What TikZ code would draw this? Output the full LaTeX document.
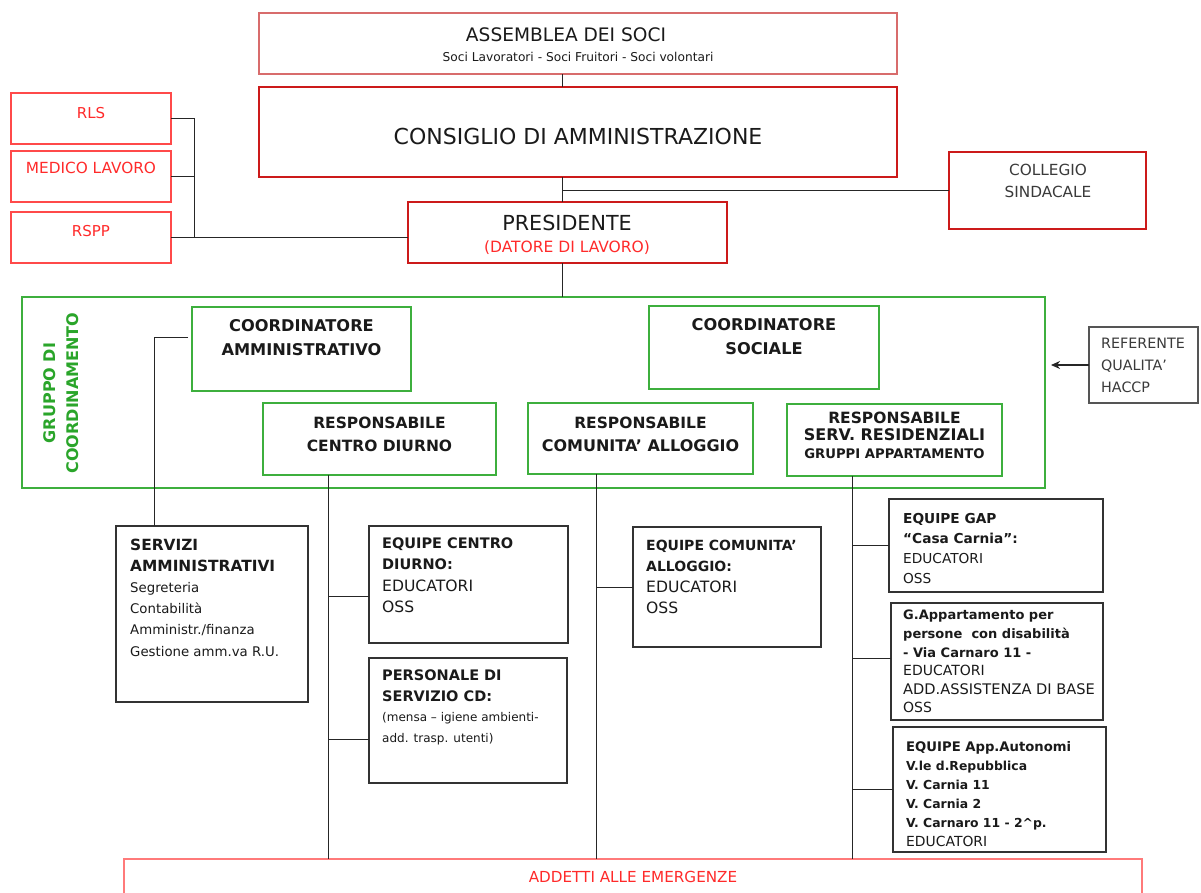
\documentclass[tikz,border=0pt]{standalone}
\usepackage{fontspec}
\setmainfont{DejaVu Sans}
\usetikzlibrary{arrows.meta}
\definecolor{rLite}{HTML}{D86C6C}
\definecolor{rDark}{HTML}{CC1A1A}
\definecolor{rBright}{HTML}{FF4A4A}
\definecolor{rAdd}{HTML}{FF7A7A}
\definecolor{rText}{HTML}{FF2A2A}
\definecolor{gBox}{HTML}{3DAF3D}
\definecolor{gText}{HTML}{2AA52A}
\definecolor{kBox}{HTML}{333333}
\definecolor{kGray}{HTML}{555555}
\definecolor{kText}{HTML}{1A1A1A}
\definecolor{kSoft}{HTML}{3A3A3A}
\tikzset{
  plain/.style={inner sep=0pt, outer sep=0pt},
  sz/.style 2 args={minimum width=#1pt, minimum height=#2pt},
  redlite/.style={plain, draw=rLite, line width=1.8pt},
  reddark/.style={plain, draw=rDark, line width=1.8pt},
  redbright/.style={plain, draw=rBright, line width=1.6pt},
  redadd/.style={plain, draw=rAdd, line width=1.6pt},
  greenbox/.style={plain, draw=gBox, line width=1.5pt},
  blackbox/.style={plain, draw=kBox, line width=1.5pt},
  graybox/.style={plain, draw=kGray, line width=1.5pt},
  conn/.style={draw=black!85, line width=1pt},
  ctxt/.style={inner sep=0pt, align=center, text=kText},
  ltxt/.style={inner sep=0pt, align=left, anchor=north west, text=kText},
}
\begin{document}
\begin{tikzpicture}[x=1pt,y=-1pt]
\useasboundingbox (0,0) rectangle (1201,892);
\clip (0,0) rectangle (1201,892);
\fill[white] (0,0) rectangle (1201,892);

% spine coordinates
\coordinate (sp) at (562.5,0);
\coordinate (br) at (194,0);
\coordinate (ca) at (154,0);
\coordinate (cdx) at (328,0);
\coordinate (cax) at (596.5,0);
\coordinate (srx) at (852,0);

% top
\node[redlite, sz={638}{61}] (assemblea) at (578,43.5) {};
\node[ctxt, font=\fontsize{18.6}{20}\selectfont] (assT) at (566,35) {ASSEMBLEA DEI SOCI};
\node[ctxt, font=\fontsize{12.2}{14}\selectfont] (assS) at (578,57) {Soci Lavoratori - Soci Fruitori - Soci volontari};

\node[reddark, sz={638}{90}] (consiglio) at (578,132) {};
\node[ctxt, font=\fontsize{22}{24}\selectfont] (consT) at (578,136) {CONSIGLIO DI AMMINISTRAZIONE};

\node[redbright, sz={160}{51}] (rls) at (91,118.5) {};
\node[ctxt, text=rText, font=\fontsize{15}{17}\selectfont] (rlsT) at (91,113) {RLS};
\node[redbright, sz={160}{51}] (medico) at (91,176.5) {};
\node[ctxt, text=rText, font=\fontsize{15.3}{17}\selectfont] (medicoT) at (91,168) {MEDICO LAVORO};
\node[redbright, sz={160}{51}] (rspp) at (91,237.5) {};
\node[ctxt, text=rText, font=\fontsize{15}{17}\selectfont] (rsppT) at (91,231) {RSPP};

\node[reddark, sz={319}{61}] (presidente) at (567.5,232.5) {};
\node[ctxt, font=\fontsize{20.7}{22}\selectfont] (presT) at (567,223) {PRESIDENTE};
\node[ctxt, text=rText, font=\fontsize{15.5}{17}\selectfont] (presS) at (567,248) {(DATORE DI LAVORO)};

\node[reddark, sz={197}{77}] (collegio) at (1047.5,190.5) {};
\node[ctxt, text=kSoft, font=\fontsize{15.3}{22}\selectfont] (collT) at (1048,181) {COLLEGIO\\SINDACALE};

% group
\node[greenbox, sz={1023}{191}] (group) at (533.5,392.5) {};
\node[ctxt, text=gText, rotate=90, font=\fontsize{16}{23}\selectfont\bfseries] (groupT) at (61.5,393) {GRUPPO DI\\COORDINAMENTO};

\node[greenbox, sz={219}{84}] (coordamm) at (301.5,349) {};
\node[ctxt, font=\fontsize{16.2}{24}\selectfont\bfseries] (coordammT) at (301.5,338) {COORDINATORE\\AMMINISTRATIVO};
\node[greenbox, sz={230}{83}] (coordsoc) at (764,347.5) {};
\node[ctxt, font=\fontsize{16.2}{24}\selectfont\bfseries] (coordsocT) at (764,337) {COORDINATORE\\SOCIALE};

\node[greenbox, sz={233}{72}] (respcd) at (379.5,439) {};
\node[ctxt, font=\fontsize{15.5}{23}\selectfont\bfseries] (respcdT) at (379.5,434.5) {RESPONSABILE\\CENTRO DIURNO};
\node[greenbox, sz={225}{71}] (respca) at (640.5,438.5) {};
\node[ctxt, font=\fontsize{15.5}{23}\selectfont\bfseries] (respcaT) at (640.5,434.5) {RESPONSABILE\\{\fontsize{16}{23}\selectfont COMUNITA' ALLOGGIO}};
\node[greenbox, sz={215}{72}] (respsr) at (894.5,440) {};
\node[ctxt, font=\fontsize{15.5}{17.5}\selectfont\bfseries] (respsrT) at (894.5,435) {RESPONSABILE\\{\fontsize{16}{17.5}\selectfont SERV. RESIDENZIALI}\\{\fontsize{13.2}{17.5}\selectfont GRUPPI APPARTAMENTO}};

\node[graybox, sz={109}{76}] (referente) at (1143.5,365) {};
\node[ltxt, text=kSoft, font=\fontsize{14.3}{22}\selectfont] (referenteT) at (1101,338) {REFERENTE\\QUALITA'\\HACCP};

% lower boxes
\node[blackbox, sz={192}{176}] (servamm) at (212,614) {};
\node[ltxt, font=\fontsize{15.4}{21.2}\selectfont] (servammT) at (130,538.5) {\textbf{SERVIZI}\\\textbf{AMMINISTRATIVI}\\{\fontsize{13.3}{21.2}\selectfont Segreteria}\\{\fontsize{13.3}{21.2}\selectfont Contabilità}\\{\fontsize{13.3}{21.2}\selectfont Amministr./finanza}\\{\fontsize{13.3}{21.2}\selectfont Gestione amm.va R.U.}};

\node[blackbox, sz={199}{117}] (eqcd) at (468.5,584.5) {};
\node[ltxt, font=\fontsize{15.6}{21.3}\selectfont] (eqcdT) at (382,537.7) {{\fontsize{14.5}{21.3}\selectfont\bfseries EQUIPE CENTRO}\\{\fontsize{14.5}{21.3}\selectfont\bfseries DIURNO:}\\EDUCATORI\\OSS};

\node[blackbox, sz={198}{125}] (perscd) at (468,720.5) {};
\node[ltxt, font=\fontsize{14.5}{20.5}\selectfont] (perscdT) at (382,669.7) {\textbf{PERSONALE DI}\\\textbf{SERVIZIO CD:}\\{\fontsize{12}{20.5}\selectfont (mensa – igiene ambienti-}\\{\fontsize{12}{20.5}\selectfont add. trasp. utenti)}};

\node[blackbox, sz={188}{120}] (eqca) at (727,587) {};
\node[ltxt, font=\fontsize{15.6}{21}\selectfont] (eqcaT) at (646,540) {{\fontsize{14}{21}\selectfont\bfseries EQUIPE COMUNITA'}\\{\fontsize{14}{21}\selectfont\bfseries ALLOGGIO:}\\EDUCATORI\\OSS};

\node[blackbox, sz={214}{93}] (gap) at (996,545.5) {};
\node[ltxt, font=\fontsize{13.7}{20}\selectfont] (gapT) at (903,513) {\textbf{EQUIPE GAP}\\\textbf{“Casa Carnia”:}\\EDUCATORI\\OSS};

\node[blackbox, sz={212}{117}] (gapp) at (997,661.5) {};
\node[ltxt, font=\fontsize{13}{18.6}\selectfont] (gappT) at (903,610) {\textbf{G.Appartamento per}\\\textbf{persone\ \ con disabilità}\\\textbf{- Via Carnaro 11 -}\\{\fontsize{14}{18.6}\selectfont EDUCATORI}\\{\fontsize{14.6}{18.6}\selectfont ADD.ASSISTENZA DI BASE}\\{\fontsize{14}{18.6}\selectfont OSS}};

\node[blackbox, sz={213}{125}] (auton) at (999.5,789.5) {};
\node[ltxt, font=\fontsize{12.4}{19}\selectfont] (autonT) at (906,741) {{\fontsize{13.2}{19}\selectfont\bfseries EQUIPE App.Autonomi}\\\textbf{V.le d.Repubblica}\\\textbf{V. Carnia 11}\\\textbf{V. Carnia 2}\\\textbf{V. Carnaro 11 - 2\textasciicircum p.}\\{\fontsize{13.9}{19}\selectfont EDUCATORI}};

\node[redadd, sz={1018}{71}] (addetti) at (633,894.5) {};
\node[ctxt, text=rText, font=\fontsize{15.2}{17}\selectfont] (addettiT) at (633,877) {ADDETTI ALLE EMERGENZE};

% connectors
\draw[conn] (assemblea.south -| sp) -- (consiglio.north -| sp);
\draw[conn] (consiglio.south -| sp) -- (presidente.north -| sp);
\draw[conn] (collegio.west -| sp) -- (collegio.west);
\draw[conn] (presidente.south -| sp) -- (group.north -| sp);

\draw[conn] (rls.east) -| (rspp.east -| br);
\draw[conn] (medico.east) -- (medico.east -| br);
\draw[conn] (rspp.east) -- (rspp.east -| presidente.west);

\draw[conn] ([xshift=-4pt,yshift=12pt]coordamm.west) -| (servamm.north -| ca);

\draw[conn] (respcd.south -| cdx) -- (addetti.north -| cdx);
\draw[conn] ([yshift=-11.5pt]eqcd.west -| cdx) -- ([yshift=-11.5pt]eqcd.west);
\draw[conn] ([yshift=-18.5pt]perscd.west -| cdx) -- ([yshift=-18.5pt]perscd.west);

\draw[conn] (respca.south -| cax) -- (addetti.north -| cax);
\draw[conn] (eqca.west -| cax) -- (eqca.west);

\draw[conn] (respsr.south -| srx) -- (addetti.north -| srx);
\draw[conn] (gap.west -| srx) -- (gap.west);
\draw[conn] ([yshift=3pt]gapp.west -| srx) -- ([yshift=3pt]gapp.west);
\draw[conn] (auton.west -| srx) -- (auton.west);

\draw[conn, line width=1.3pt, -{Stealth[length=9pt,width=8pt]}] (referente.west) -- ([xshift=6pt]referente.west -| group.east);
\end{tikzpicture}
\end{document}
